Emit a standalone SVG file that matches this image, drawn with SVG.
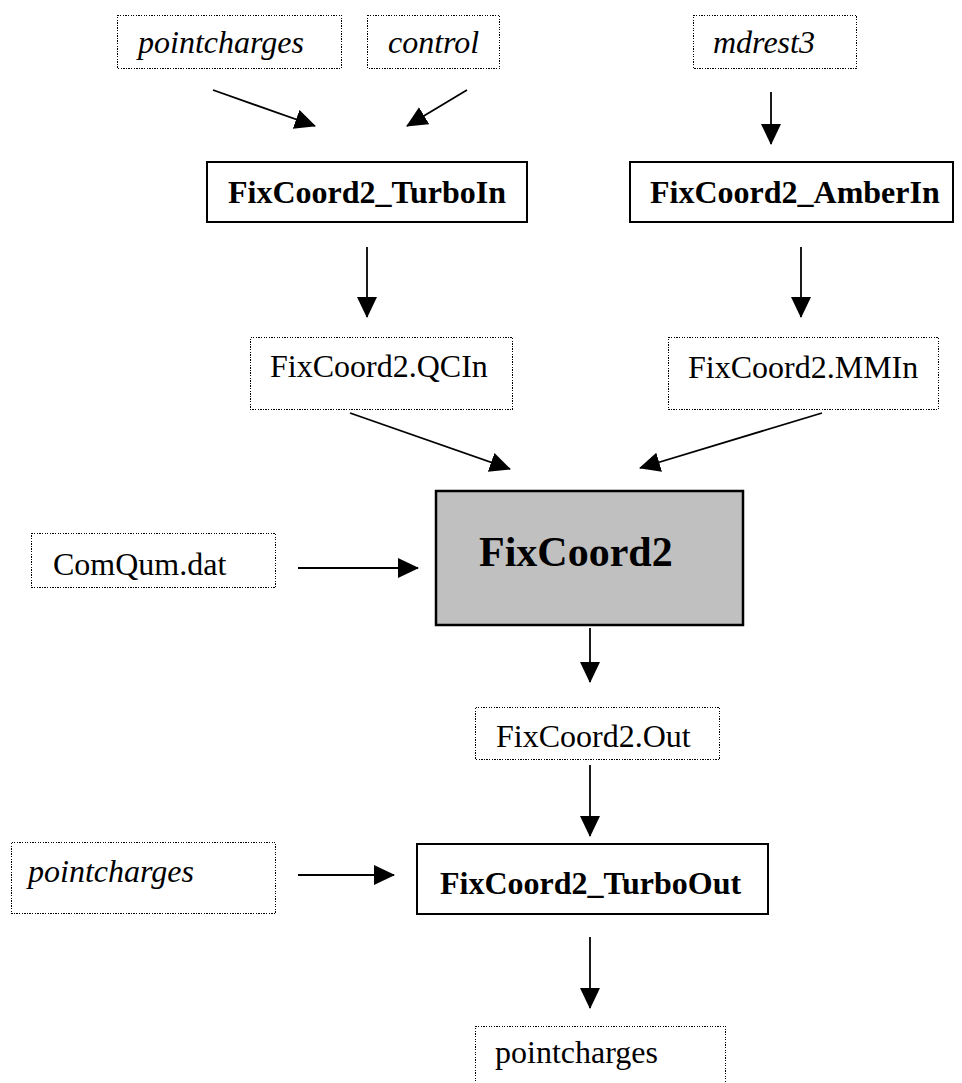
<svg xmlns="http://www.w3.org/2000/svg" width="962" height="1083" viewBox="0 0 962 1083">
  <style>
    .file { fill: #fff; stroke: #000; stroke-width: 1.3; stroke-dasharray: 1.3 1.3; shape-rendering: crispEdges; }
    .prog { fill: #fff; stroke: #000; stroke-width: 2; }
    .main { fill: #c0c0c0; stroke: #000; stroke-width: 2.5; }
    .t { font-family: "Liberation Serif", "Times New Roman", serif; font-size: 32px; fill: #000; }
    .it { font-style: italic; }
    .b { font-weight: bold; }
    .big { font-size: 42px; font-weight: bold; }
    .conn line { stroke: #000; stroke-width: 1.8; marker-end: url(#head); }
  </style>
  <defs>
    <marker id="head" markerUnits="userSpaceOnUse" markerWidth="22" markerHeight="22" refX="20" refY="10" orient="auto">
      <path d="M0,0 L21,10 L0,20 Z" fill="#000"/>
    </marker>
  </defs>
  <rect width="962" height="1083" fill="#fff"/>

  <!-- input files -->
  <g id="pointcharges-in1">
    <rect class="file" x="117.5" y="15.5" width="224" height="53"/>
    <text class="t it" x="138" y="53">pointcharges</text>
  </g>
  <g id="control">
    <rect class="file" x="367.5" y="15.5" width="132" height="53"/>
    <text class="t it" x="388" y="53">control</text>
  </g>
  <g id="mdrest3">
    <rect class="file" x="693.5" y="15.5" width="163" height="53"/>
    <text class="t it" x="713" y="53">mdrest3</text>
  </g>

  <!-- interface programs -->
  <g id="turboin">
    <rect class="prog" x="207" y="162" width="320" height="60"/>
    <text class="t b" x="228" y="203">FixCoord2_TurboIn</text>
  </g>
  <g id="amberin">
    <rect class="prog" x="630" y="162" width="323" height="60"/>
    <text class="t b" x="650" y="203">FixCoord2_AmberIn</text>
  </g>

  <!-- intermediate files -->
  <g id="qcin">
    <rect class="file" x="250.5" y="337.5" width="262" height="72"/>
    <text class="t" x="270" y="377">FixCoord2.QCIn</text>
  </g>
  <g id="mmin">
    <rect class="file" x="668.5" y="337.5" width="270" height="72"/>
    <text class="t" x="688" y="378">FixCoord2.MMIn</text>
  </g>

  <!-- central program -->
  <g id="fixcoord2">
    <rect class="main" x="436" y="491" width="307" height="134"/>
    <text class="t big" x="479" y="566">FixCoord2</text>
  </g>
  <g id="comqum">
    <rect class="file" x="31.5" y="533.5" width="244" height="54"/>
    <text class="t" x="53" y="575">ComQum.dat</text>
  </g>

  <!-- output chain -->
  <g id="out">
    <rect class="file" x="475.5" y="707.5" width="244" height="52"/>
    <text class="t" x="496" y="747">FixCoord2.Out</text>
  </g>
  <g id="pointcharges-in2">
    <rect class="file" x="11.5" y="842.5" width="264" height="71"/>
    <text class="t it" x="28" y="882">pointcharges</text>
  </g>
  <g id="turboout">
    <rect class="prog" x="417" y="844" width="351" height="70"/>
    <text class="t b" x="440" y="894">FixCoord2_TurboOut</text>
  </g>
  <g id="pointcharges-out">
    <rect class="file" x="475.5" y="1026.5" width="250" height="70"/>
    <text class="t" x="495" y="1063">pointcharges</text>
  </g>

  <!-- connectors -->
  <g id="connectors" class="conn">
    <line x1="213" y1="90" x2="315" y2="126"/>
    <line x1="467" y1="90" x2="407" y2="126"/>
    <line x1="771" y1="92" x2="771" y2="144"/>
    <line x1="367" y1="247" x2="367" y2="317"/>
    <line x1="801" y1="247" x2="801" y2="317"/>
    <line x1="350" y1="413" x2="510" y2="469"/>
    <line x1="822" y1="413" x2="640" y2="468"/>
    <line x1="298" y1="568" x2="418" y2="568"/>
    <line x1="590" y1="628" x2="590" y2="682"/>
    <line x1="590" y1="765" x2="590" y2="836"/>
    <line x1="298" y1="875" x2="394" y2="875"/>
    <line x1="590" y1="937" x2="590" y2="1008"/>
  </g>
</svg>
